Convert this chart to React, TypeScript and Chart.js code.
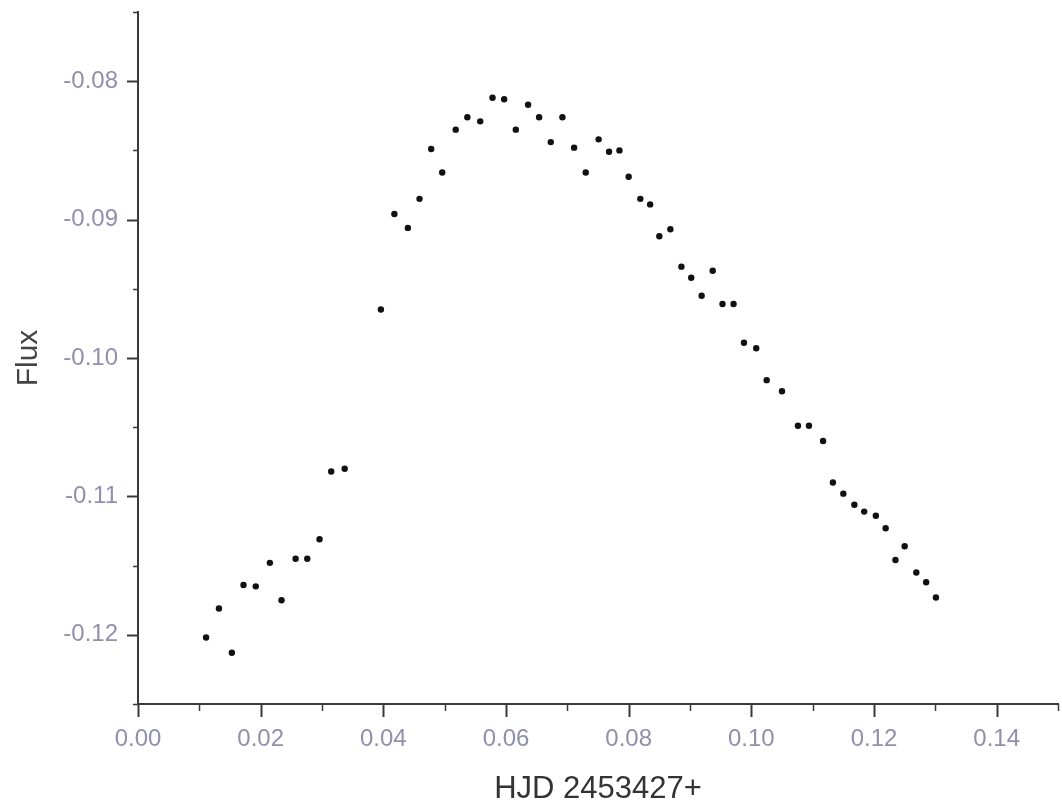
import React, { useEffect, useRef } from "react";
import { Chart, registerables } from "chart.js";

Chart.register(...registerables);

// HJD offset (days, HJD 2453427+)
const hjd = [
  0.0111, 0.0132, 0.0153, 0.0172, 0.0192, 0.0215, 0.0234, 0.0257, 0.0276, 0.0296,
  0.0315, 0.0337, 0.0396, 0.0418, 0.0440, 0.0459, 0.0478, 0.0496, 0.0518, 0.0537,
  0.0558, 0.0578, 0.0597, 0.0616, 0.0636, 0.0654, 0.0673, 0.0692, 0.0711, 0.0730,
  0.0751, 0.0768, 0.0785, 0.0800, 0.0819, 0.0835, 0.0850, 0.0868, 0.0886, 0.0902,
  0.0919, 0.0937, 0.0953, 0.0971, 0.0988, 0.1008, 0.1025, 0.1050, 0.1076, 0.1094,
  0.1117, 0.1133, 0.1150, 0.1168, 0.1184, 0.1203, 0.1219, 0.1235, 0.1250, 0.1269,
  0.1285, 0.1301,
];

// Flux values
const flux = [
  -0.1202, -0.1181, -0.1213, -0.1164, -0.1165, -0.1148, -0.1175, -0.1145, -0.1145, -0.1131,
  -0.1082, -0.1080, -0.0965, -0.0896, -0.0906, -0.0885, -0.0849, -0.0866, -0.0835, -0.0826,
  -0.0829, -0.0812, -0.0813, -0.0835, -0.0817, -0.0826, -0.0844, -0.0826, -0.0848, -0.0866,
  -0.0842, -0.0851, -0.0850, -0.0869, -0.0885, -0.0889, -0.0912, -0.0907, -0.0934, -0.0942,
  -0.0955, -0.0937, -0.0961, -0.0961, -0.0989, -0.0993, -0.1016, -0.1024, -0.1049, -0.1049,
  -0.1060, -0.1090, -0.1098, -0.1106, -0.1111, -0.1114, -0.1123, -0.1146, -0.1136, -0.1155,
  -0.1162, -0.1173,
];

// Labelled tick values
const xLabelValues = [0, 0.02, 0.04, 0.06, 0.08, 0.1, 0.12, 0.14];
const yLabelValues = [-0.12, -0.11, -0.1, -0.09, -0.08];

// All tick mark positions (major labelled, minor unlabelled)
const xTickValues = [0, 0.01, 0.02, 0.03, 0.04, 0.05, 0.06, 0.07, 0.08, 0.09, 0.1, 0.11, 0.12, 0.13, 0.14, 0.15];
const yTickValues = [-0.125, -0.12, -0.115, -0.11, -0.105, -0.1, -0.095, -0.09, -0.085, -0.08, -0.075];

const xTitle = "HJD 2453427+";
const yTitle = "Flux";

const AXIS_COLOR = "#3a3a3a";
const LABEL_COLOR = "#9090ae";
const FONT = "'Liberation Sans', Arial, sans-serif";

const tickMarks = {
  id: "tickMarks",
  afterDraw(chart: any) {
    const { ctx, chartArea, scales } = chart;
    const xs = scales.x;
    const ys = scales.y;
    ctx.save();
    ctx.strokeStyle = AXIS_COLOR;
    xTickValues.forEach((v) => {
      const major = Math.abs(Math.round(v * 100) % 2) === 0;
      const px = Math.round(xs.getPixelForValue(v)) + 0.5;
      ctx.lineWidth = major ? 2 : 1.5;
      ctx.beginPath();
      ctx.moveTo(px, chartArea.bottom);
      ctx.lineTo(px, chartArea.bottom + (major ? 13 : 7));
      ctx.stroke();
    });
    yTickValues.forEach((v) => {
      const major = Math.abs(Math.round(v * 1000) % 10) === 0;
      const py = Math.round(ys.getPixelForValue(v)) + 0.5;
      ctx.lineWidth = major ? 2 : 1.5;
      ctx.beginPath();
      ctx.moveTo(chartArea.left, py);
      ctx.lineTo(chartArea.left - (major ? 11 : 5), py);
      ctx.stroke();
    });
    ctx.restore();
  },
};

export default function App() {
  const canvasRef = useRef<HTMLCanvasElement | null>(null);

  useEffect(() => {
    if (!canvasRef.current) return;
    const points = hjd.map((x, i) => ({ x, y: flux[i] }));
    const chart = new Chart(canvasRef.current, {
      type: "scatter",
      data: {
        datasets: [
          {
            data: points,
            backgroundColor: "#111111",
            borderColor: "#111111",
            pointRadius: 3.2,
            pointBorderWidth: 0,
          },
        ],
      },
      options: {
        animation: false,
        responsive: true,
        maintainAspectRatio: false,
        layout: { padding: { top: 12, right: 0, bottom: 0, left: 0 } },
        plugins: {
          legend: { display: false },
          tooltip: { enabled: false },
        },
        scales: {
          x: {
            type: "linear",
            min: 0,
            max: 0.15,
            afterBuildTicks: (scale: any) => {
              scale.ticks = xLabelValues.map((value) => ({ value }));
            },
            afterFit: (scale: any) => {
              scale.height = 107;
              scale.paddingLeft = 0;
              scale.paddingRight = 0;
            },
            grid: { display: true, drawOnChartArea: false, drawTicks: false },
            border: { display: true, color: AXIS_COLOR, width: 2 },
            ticks: {
              padding: 23,
              color: LABEL_COLOR,
              font: { family: FONT, size: 24, lineHeight: 1 },
              callback: (v: any) => Number(v).toFixed(2),
            },
            title: {
              display: true,
              text: xTitle,
              color: "#333333",
              font: { family: FONT, size: 31, lineHeight: 1 },
              padding: { top: 0, bottom: 6 },
            },
          },
          y: {
            type: "linear",
            min: -0.125,
            max: -0.075,
            afterBuildTicks: (scale: any) => {
              scale.ticks = yLabelValues.map((value) => ({ value }));
            },
            afterFit: (scale: any) => {
              scale.width = 138;
              scale.paddingTop = 0;
              scale.paddingBottom = 0;
            },
            grid: { display: true, drawOnChartArea: false, drawTicks: false },
            border: { display: true, color: AXIS_COLOR, width: 2 },
            ticks: {
              padding: 20,
              color: LABEL_COLOR,
              font: { family: FONT, size: 24, lineHeight: 1 },
              callback: (v: any) => Number(v).toFixed(2),
            },
            title: {
              display: true,
              text: yTitle,
              color: "#444444",
              font: { family: FONT, size: 30, lineHeight: 1 },
              padding: { top: 14, bottom: 0 },
            },
          },
        },
      },
      plugins: [tickMarks],
    });
    return () => chart.destroy();
  }, []);

  return (
    <div
      style={{
        position: "fixed",
        left: 0,
        top: 0,
        width: 1062,
        height: 811,
        background: "#ffffff",
      }}
    >
      <canvas ref={canvasRef} />
    </div>
  );
}
